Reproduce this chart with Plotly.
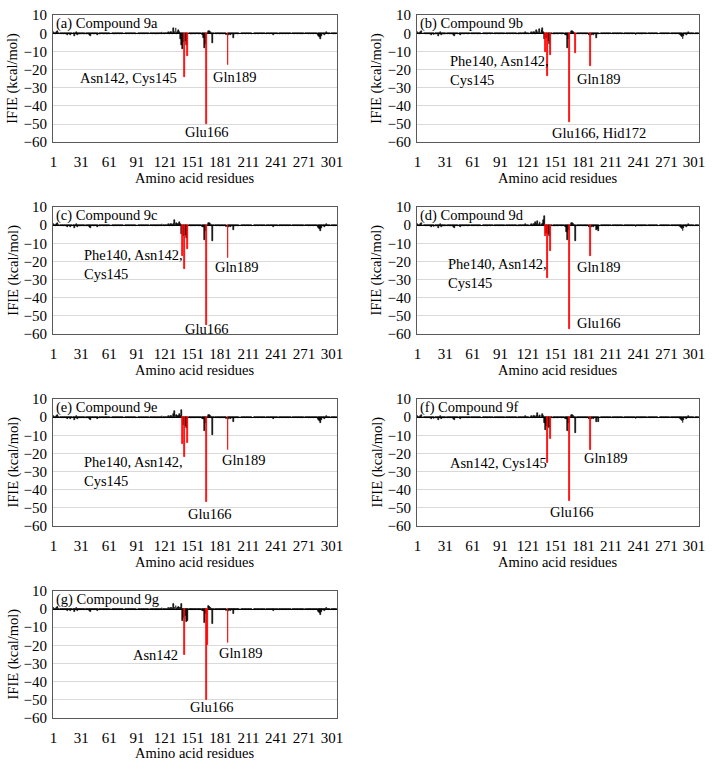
import plotly.graph_objects as go

W, H = 714, 769

residues = list(range(1, 307))

# small IFIE values shared by all compounds (residues 1-306)
background = [
    0.5, 0.2, -0.3, 0.4, 1.1, 0.3, -0.2, -0.6, 0.2, -0.3, 0.1, -0.5, 0.3, -0.7, -0.2,
    -1.1, 0.2, -0.4, -0.9, 0.3, -0.2, -0.5, 0.1, -1.6, -0.3, 0.5, -0.8, -0.2, -0.4, -0.7,
    -0.2, 0.3, -0.4, -0.2, 0.2, -0.3, -0.6, -0.2, 0.3, -0.9, -1.4, -0.4, 0.2, -0.3, -0.6,
    0.2, -0.3, -1.0, -0.2, 0.1, -0.3, -0.2, 0.2, -0.1, -0.4, -0.2, 0.1, -0.2, -0.5, -0.1,
    -0.3, 0.1, -0.3, -0.1, 0.2, -0.2, -0.5, 0.1, -0.2, -0.1, 0.2, -0.3, -0.1, -0.2, 0.1,
    -0.2, -0.4, 0.1, -0.1, -0.2, 0.2, -0.1, -0.3, -0.1, 0.1, -0.2, -0.1, 0.2, -0.2, -0.1,
    -0.2, 0.1, -0.1, -0.3, 0.2, -0.1, -0.2, 0.1, -0.3, -0.1, 0.2, -0.2, -0.1, 0.3, -0.2,
    -0.1, 0.2, -0.4, -0.1, 0.1, -0.2, -0.3, 0.1, -0.2, 0.3, -0.1, -0.2, 0.5, -0.3, 0.2,
    -0.2, 0.3, -0.1, 0.2, 0.5, -0.3, 0.6, 0.8, -0.2, 0.7, 0.4, 0.3, 0.6, -0.4, 0.5,
    0.4, 0.9, 0.6, -0.8, -0.6, -1.0, -0.5, -0.7, -0.9, -0.6, -0.4, -0.3, 0.2, -0.3, -0.2,
    -0.2, 0.1, -0.3, -0.2, 0.2, -0.1, -0.3, -0.2, 0.1, -0.4, -0.6, -0.8, -1.2, -1.5, -1.0,
    -1.0, 0.3, 0.8, 1.2, 0.6, -0.4, -1.0, 0.3, -0.2, -0.5, 0.2, -0.3, -0.1, 0.2, -0.3,
    -0.2, 0.1, -0.4, -0.2, 0.3, -0.5, -1.2, -0.8, -1.0, -0.9, -0.3, -1.2, -0.4, -0.6, -2.8,
    -0.3, -0.5, 0.2, -0.3, -0.2, 0.1, -0.2, -0.1, 0.2, -0.3, -0.1, 0.1, -0.2, -0.1, 0.1,
    -0.2, 0.1, -0.1, -0.2, 0.2, -0.1, -0.3, 0.1, -0.2, -0.1, 0.1, -0.2, -0.1, 0.2, -0.1,
    -0.2, 0.1, -0.1, -0.2, 0.1, -0.2, -0.1, 0.2, -0.3, -0.1, 0.1, -0.2, -0.8, -0.1, 0.2,
    -0.1, -0.2, 0.1, -0.6, -0.2, -0.1, 0.2, -0.3, -0.1, 0.1, -0.2, -0.1, 0.2, -0.2, -0.1,
    0.1, -0.3, -0.1, 0.2, -0.1, -0.2, 0.1, -0.1, -0.2, 0.2, -0.1, -0.3, 0.1, -0.2, -0.1,
    0.1, -0.2, -0.1, 0.2, -0.1, -0.2, 0.1, -0.3, -0.1, 0.2, -0.2, -0.1, 0.1, -0.3, -0.6,
    -1.2, -1.8, -2.2, -3.0, -1.5, -0.4, 0.3, -0.8, -0.2, 0.6, 0.3, -0.2, 0.1, -0.2, -0.1,
    0.2, -0.1, -0.2, 0.1, -0.3, 0.1,
]

compounds = ["9a", "9b", "9c", "9d", "9e", "9f", "9g"]
panel_tags = ["(a)", "(b)", "(c)", "(d)", "(e)", "(f)", "(g)"]

# residues with larger IFIE per compound (kcal/mol)
key_9a = {130: 3.0, 133: 2.8, 136: 1.5, 138: -3.0, 139: -6.5, 140: -8.5, 141: -5.0,
          142: -24.0, 143: -4.5, 144: -6.5, 145: -12.7, 163: -2.5, 164: -8.0, 165: -6.0,
          166: -50.0, 168: 1.2, 169: 1.0, 172: -5.5, 189: -17.8}
key_9b = {130: 2.0, 133: 2.5, 136: 1.5, 137: 2.7, 139: -3.0, 140: -10.5, 141: -2.5,
          142: -23.5, 143: -4.5, 144: -6.0, 145: -12.0, 164: -8.0, 165: -3.5,
          166: -49.0, 168: 1.2, 169: 1.4, 172: -11.0, 189: -18.0}
key_9c = {131: 2.7, 134: 1.0, 137: 2.0, 139: -5.0, 140: -17.0, 141: -6.0, 142: -24.0,
          143: -5.5, 144: -7.0, 145: -13.0, 164: -8.2, 165: -3.0, 166: -55.0, 168: 1.0,
          169: 1.3, 172: -8.5, 189: -18.0}
key_9d = {129: 1.5, 131: 2.2, 134: 2.0, 138: 3.0, 139: 5.0, 140: -6.0, 141: -4.5,
          142: -29.0, 143: -5.0, 144: -6.0, 145: -14.5, 163: -4.0, 164: -8.3, 165: -2.5,
          166: -57.5, 168: 1.2, 169: 1.0, 172: -8.6, 189: -17.2, 196: -2.0, 197: -3.0}
key_9e = {130: 1.5, 131: 3.6, 134: 1.2, 137: 2.0, 139: 3.8, 140: -15.0, 141: -4.5,
          142: -22.0, 143: -5.0, 144: -6.0, 145: -14.0, 164: -7.8, 165: -3.0,
          166: -47.0, 168: 1.2, 169: 1.0, 172: -9.6, 189: -18.1}
key_9f = {131: 2.5, 134: 1.2, 137: 2.0, 139: -3.5, 140: -7.0, 141: -5.0, 142: -25.4,
          143: -5.5, 144: -6.0, 145: -12.3, 164: -7.8, 165: -3.5, 166: -46.4, 168: 1.0,
          169: 1.2, 172: -8.7, 189: -18.1, 197: -2.9}
key_9g = {130: 3.0, 133: 1.5, 136: 1.2, 139: 3.0, 140: -6.3, 141: -5.0, 142: -25.5,
          143: -4.0, 144: -7.0, 145: -6.5, 164: -7.4, 165: -2.5, 166: -50.0, 167: -20.0,
          168: 1.5, 169: 1.3, 172: -8.3, 189: -18.9}
key_values = [key_9a, key_9b, key_9c, key_9d, key_9e, key_9f, key_9g]

# residues drawn in red
red_9a = [142, 145, 166, 189]
red_9b = [140, 142, 145, 166, 172, 189]
red_9c = [140, 142, 145, 166, 189]
red_9d = [140, 142, 145, 166, 189]
red_9e = [140, 142, 145, 166, 189]
red_9f = [142, 145, 166, 189]
red_9g = [142, 166, 167, 189]
red_residues = [red_9a, red_9b, red_9c, red_9d, red_9e, red_9f, red_9g]

residue_labels = [
    ["Asn142, Cys145", "Gln189", "Glu166"],
    ["Phe140, Asn142,<br>Cys145", "Gln189", "Glu166, Hid172"],
    ["Phe140, Asn142,<br>Cys145", "Gln189", "Glu166"],
    ["Phe140, Asn142,<br>Cys145", "Gln189", "Glu166"],
    ["Phe140, Asn142,<br>Cys145", "Gln189", "Glu166"],
    ["Asn142, Cys145", "Gln189", "Glu166"],
    ["Asn142", "Gln189", "Glu166"],
]

x_tick_values = list(range(1, 302, 30))

# label placement in px relative to the panel box (dx, dy, xanchor)
label_places = [
    [(127.6, 64.4, "right"), (160.0, 63.4, "left"), (156.0, 119.4, "center")],
    [(31.7, 56.2, "left"), (159.7, 65.4, "left"), (134.7, 120.4, "left")],
    [(29.3, 58.4, "left"), (162.0, 61.7, "left"), (156.0, 124.4, "center")],
    [(29.7, 68.0, "left"), (159.7, 61.7, "left"), (159.7, 118.4, "left")],
    [(29.3, 74.5, "left"), (169.3, 62.7, "left"), (159.3, 117.0, "center")],
    [(134.0, 65.4, "right"), (167.4, 60.4, "left"), (157.4, 115.4, "center")],
    [(128.6, 65.2, "right"), (166.3, 63.7, "left"), (160.8, 118.2, "center")],
]

FONT = "Liberation Serif"
col_left = [50.7, 419.3]
col_width = [287.6, 285.7]
row_top = [7.3, 203.3, 399.3, 595.3]
box_h = 129.7

fig = go.Figure()
annotations = []

for i, comp in enumerate(compounds):
    row, col = divmod(i, 2)
    n = i + 1
    xa = "x" if n == 1 else f"x{n}"
    ya = "y" if n == 1 else f"y{n}"

    values = list(background)
    for res, val in key_values[i].items():
        values[res - 1] = val
    red = set(red_residues[i])
    black_y = [None if r in red else v for r, v in zip(residues, values)]
    red_y = [v if r in red else None for r, v in zip(residues, values)]

    fig.add_trace(go.Bar(x=residues, y=black_y, width=0.9, marker_color="black",
                         marker_line=dict(color="black", width=0.6),
                         xaxis=xa, yaxis=ya, showlegend=False))
    fig.add_trace(go.Bar(x=residues, y=red_y, width=0.9, marker_color="#ff0000",
                         marker_line=dict(color="#ff0000", width=0.8),
                         xaxis=xa, yaxis=ya, showlegend=False))

    left, top = col_left[col], row_top[row]
    width = col_width[col]
    x_dom = [left / W, (left + width) / W]
    y_dom = [1 - (top + box_h) / H, 1 - top / H]
    ax_key = "xaxis" if n == 1 else f"xaxis{n}"
    ay_key = "yaxis" if n == 1 else f"yaxis{n}"
    fig.update_layout(**{
        ax_key: dict(domain=x_dom, anchor=ya, range=[0.5, 306.5], tickmode="array",
                     tickvals=x_tick_values, showgrid=False, zeroline=False,
                     showline=True, mirror=True, linecolor="#595959", linewidth=1,
                     ticks="", ticklabelstandoff=6,
                     tickfont=dict(family=FONT, size=15, color="black")),
        ay_key: dict(domain=y_dom, anchor=xa, range=[-60, 10], dtick=10,
                     showgrid=True, gridcolor="#d9d9d9", gridwidth=1,
                     zeroline=True, zerolinecolor="black", zerolinewidth=1,
                     showline=True, mirror=True, linecolor="#595959", linewidth=1,
                     ticks="", ticklabelstandoff=2,
                     tickfont=dict(family=FONT, size=15, color="black")),
    })

    # panel tag
    annotations.append(dict(text=f"{panel_tags[i]} Compound {comp}", xref="paper", yref="paper",
                            x=(left + 1) / W, y=1 - (top + 9.0) / H, xanchor="left",
                            yanchor="middle", showarrow=False,
                            font=dict(family=FONT, size=14.5, color="black")))
    # axis titles
    annotations.append(dict(text="Amino acid residues", xref="paper", yref="paper",
                            x=(left + width / 2) / W, y=1 - (top + 166) / H,
                            xanchor="center", yanchor="middle", showarrow=False,
                            font=dict(family=FONT, size=14.5, color="black")))
    annotations.append(dict(text="IFIE (kcal/mol)", xref="paper", yref="paper",
                            x=(left - 40.5) / W, y=1 - (top + box_h / 2) / H,
                            xanchor="center", yanchor="middle", textangle=-90,
                            showarrow=False,
                            font=dict(family=FONT, size=14.5, color="black")))
    # residue labels
    for text, (dx, dy, anchor) in zip(residue_labels[i], label_places[i]):
        annotations.append(dict(text=text, xref="paper", yref="paper",
                                x=(left + dx) / W, y=1 - (top + dy) / H,
                                xanchor=anchor, yanchor="middle", align="left",
                                showarrow=False,
                                font=dict(family=FONT, size=14.5, color="black")))

fig.update_layout(
    width=W, height=H,
    margin=dict(l=0, r=0, t=0, b=0),
    paper_bgcolor="white", plot_bgcolor="white",
    barmode="overlay", bargap=0,
    annotations=annotations,
    font=dict(family=FONT, color="black"),
)

# the page body has a default 8px margin; drop it so the figure fills the window
fig.write_html("out.html", config={"displayModeBar": False},
               post_script="document.body.style.margin='0';")
